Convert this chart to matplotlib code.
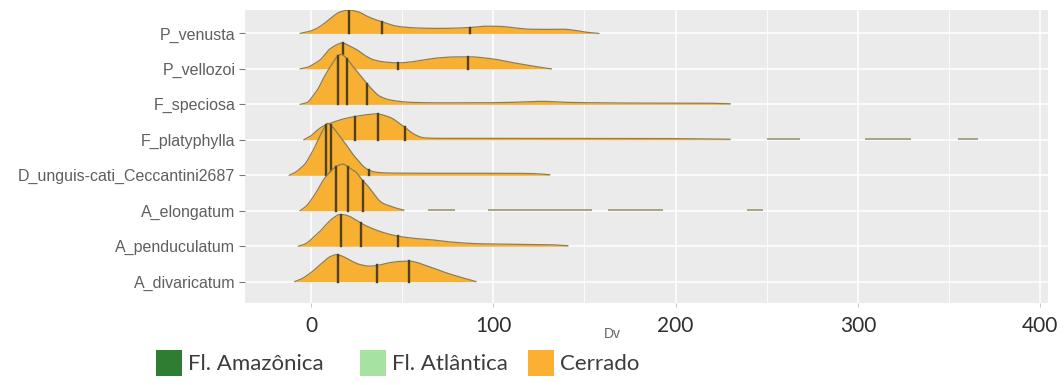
import numpy as np
import matplotlib
matplotlib.use("Agg")
import matplotlib.pyplot as plt
from matplotlib.patches import Rectangle

# ---- data -----------------------------------------------------------------
# species from bottom row to top row
species = ["A_divaricatum", "A_penduculatum", "A_elongatum",
           "D_unguis-cati_Ceccantini2687", "F_platyphylla", "F_speciosa",
           "P_vellozoi", "P_venusta"]

# density profiles (Dv value, relative density)
divaricatum_dv = [-9, -5, -2, 1, 5, 8.3, 11, 13.8, 16.5, 19.3, 23, 26.6, 32, 37, 43, 49,
                  54, 58, 61.3, 68, 74, 82, 88, 90.6]
divaricatum_den = [0, 3, 6.5, 10.6, 17, 22.3, 25.5, 27, 26, 23.7, 20, 17.3, 15.6, 16.5, 19,
                   20.3, 20.6, 19.3, 17.3, 13, 9, 4.5, 1.5, 0]

penduculatum_dv = [-7, -3, 1, 5, 8.3, 12, 15.6, 18, 21, 24, 27.5, 32, 37.6, 43, 48, 56, 65,
                   75, 92, 110, 130, 141]
penduculatum_den = [0, 2.5, 8.3, 15, 21.7, 28, 31.7, 31.5, 30, 27, 23, 19, 15, 12, 10, 8,
                    6.7, 4.5, 2.5, 2, 1.6, 0.5]

elongatum_dv = [-6, -3, 1, 4, 6.5, 9, 12, 15, 17.5, 21, 24.8, 28, 30.3, 34, 37.6, 40, 43,
                47, 51]
elongatum_den = [0, 4, 13.3, 22, 30, 36, 41.7, 45.5, 46.7, 43, 38.3, 31, 26.7, 18, 10, 7, 5,
                 2.5, 0.6]

unguis_dv = [-12, -9, -6, -3, -1, 2, 4, 6.5, 9.2, 12, 14.7, 17.5, 20.2, 23, 26.6, 29, 32,
             36, 45, 70, 100, 120, 131]
unguis_den = [0, 2.5, 6.7, 12, 18, 28, 36, 45, 52, 48, 41.7, 35, 28.3, 21, 13.3, 8.5, 5, 3,
              2.2, 2, 2, 1.8, 0.6]

platyphylla_dv = [-4, 0, 3, 6, 9, 12, 18, 24, 30, 36, 41, 45, 48, 51.5, 55, 58, 62, 70, 100,
                  150, 200, 230]
platyphylla_den = [0, 4, 9, 13, 15.5, 17.5, 21, 23.3, 25, 26, 24, 21, 17, 12.6, 7.5, 4.3, 2,
                   1.5, 1.5, 1.5, 1.2, 0.6]

speciosa_dv = [-6, -2, 1, 4, 6.5, 9, 12, 14.5, 16.5, 19, 23, 27, 30.3, 34, 37.6, 42, 47, 55,
               70, 90, 110, 127, 140, 160, 190, 215, 230]
speciosa_den = [0, 2, 8.3, 16, 25, 33, 41.7, 48, 50, 47, 38, 29, 21.7, 14, 8.3, 5, 3.3, 2,
                1.5, 1.5, 2, 3, 2, 1.5, 1.2, 1.2, 0.6]

vellozoi_dv = [-6, -2, 1, 5, 10, 14, 17, 21, 25, 30, 34, 40, 48, 55, 62, 70, 80, 88, 95, 102,
               110, 120, 128, 132]
vellozoi_den = [0, 1.5, 4.3, 9, 19.3, 24, 26, 23, 19.3, 13, 9.3, 7, 6, 7, 9, 11, 12, 12, 11,
                9.3, 6.5, 3.3, 1, 0]

venusta_dv = [-6, -2, 2, 5, 8, 12, 16, 21, 26, 31, 35, 39, 45, 50, 60, 70, 80, 88, 96, 104,
              112, 120, 130, 138, 145, 151, 158]
venusta_den = [0, 1.5, 4, 7, 11, 17, 21.5, 23.3, 21.5, 17, 14, 11.6, 8, 6.5, 5.3, 5, 5.3, 6,
               7.2, 7, 5.5, 4.2, 4, 4.2, 3, 1.2, 0]

# quartiles of Dv per species
divaricatum_q = [14.7, 36.3, 54]
penduculatum_q = [16.2, 27.5, 48]
elongatum_q = [13.8, 20.2, 28.4]
unguis_q = [8.3, 11, 31.7]
platyphylla_q = [24, 37, 51.5]
speciosa_q = [14.7, 19.8, 30.8]
vellozoi_q = [17.5, 48, 86]
venusta_q = [21, 39, 87]

# isolated low-density stretches of the far tail
elongatum_tail = [(64, 79), (97, 154), (163, 193), (239, 248)]
platyphylla_tail = [(250, 268), (304, 329), (355, 366)]

x_ticks = [0, 100, 200, 300, 400]
legend_labels = ["Fl. Amazônica", "Fl. Atlântica", "Cerrado"]
legend_colors = ["#2f7d33", "#a6e3a0", "#fbb034"]

profiles = [
    (divaricatum_dv, divaricatum_den, divaricatum_q, []),
    (penduculatum_dv, penduculatum_den, penduculatum_q, []),
    (elongatum_dv, elongatum_den, elongatum_q, elongatum_tail),
    (unguis_dv, unguis_den, unguis_q, []),
    (platyphylla_dv, platyphylla_den, platyphylla_q, platyphylla_tail),
    (speciosa_dv, speciosa_den, speciosa_q, []),
    (vellozoi_dv, vellozoi_den, vellozoi_q, []),
    (venusta_dv, venusta_den, venusta_q, []),
]


def pchip(x, y, xs):
    """Monotone cubic Hermite curve through (x, y), evaluated at xs."""
    x = np.asarray(x, float)
    y = np.asarray(y, float)
    xs = np.asarray(xs, float)
    h = np.diff(x)
    d = np.diff(y) / h
    m = np.zeros_like(y)
    for k in range(1, len(x) - 1):
        if d[k - 1] * d[k] > 0:
            w1 = 2 * h[k] + h[k - 1]
            w2 = h[k] + 2 * h[k - 1]
            m[k] = (w1 + w2) / (w1 / d[k - 1] + w2 / d[k])
    m[0] = d[0]
    m[-1] = d[-1]
    idx = np.clip(np.searchsorted(x, xs) - 1, 0, len(x) - 2)
    t = (xs - x[idx]) / h[idx]
    h00 = 2 * t**3 - 3 * t**2 + 1
    h10 = t**3 - 2 * t**2 + t
    h01 = -2 * t**3 + 3 * t**2
    h11 = t**3 - t**2
    return (h00 * y[idx] + h10 * h[idx] * m[idx] + h01 * y[idx + 1]
            + h11 * h[idx] * m[idx + 1])


# ---- figure ---------------------------------------------------------------
W, H = 1064, 385
fig = plt.figure(figsize=(W / 100, H / 100), dpi=100)
fig.patch.set_facecolor("white")

left, right, top, bottom = 245, 1048, 10, 303
ax = fig.add_axes([left / W, 1 - bottom / H, (right - left) / W, (bottom - top) / H])
ax.set_facecolor("#ebebeb")
for s in ax.spines.values():
    s.set_visible(False)

ax.set_xlim(-36.2, 404.3)
ax.set_ylim(0.40, 8.66)

# grid
for v in [50, 150, 250, 350]:
    ax.axvline(v, color="white", lw=0.6, zorder=0)
for v in x_ticks:
    ax.axvline(v, color="white", lw=1.1, zorder=0)
for i in range(len(species)):
    ax.axhline(i + 1, color="white", lw=1.1, zorder=0)

scale = 1 / 35.5
fill_col = "#f8b032"
edge_col = "#8a7d58"
tail_col = "#a39c7e"
q_col = "#52401a"

for i, (dv, den, qs, tail) in enumerate(profiles):
    base = i + 1
    z = 2 + (len(profiles) - i) * 1.0
    xs = np.linspace(dv[0], dv[-1], 800)
    ys = np.clip(pchip(dv, den, xs), 0, None)
    ax.fill_between(xs, base, base + ys * scale, color=fill_col, lw=0, zorder=z)
    ax.plot(xs, base + ys * scale, color=edge_col, lw=0.9, zorder=z + 0.1,
            solid_capstyle="round")
    for q in qs:
        hq = float(np.clip(pchip(dv, den, [q])[0], 0, None))
        ax.plot([q, q], [base, base + hq * scale], color=q_col, lw=1.7, zorder=z + 0.2)
    for a, b in tail:
        ax.plot([a, b], [base + 0.012, base + 0.012], color=tail_col, lw=1.3,
                zorder=z + 0.1, solid_capstyle="butt")

# axes ticks
ax.set_yticks(range(1, len(species) + 1))
ax.set_yticklabels(species, fontsize=11.5, color="#5f5f5f", family="Liberation Sans")
ax.tick_params(axis="y", length=4, width=0.8, color="#7a7a7a", pad=3)
ax.set_xticks(x_ticks)
ax.set_xticklabels([str(v) for v in x_ticks], fontsize=15, color="#2e2e2e", family="Lato")
ax.tick_params(axis="x", length=3, width=0.6, color="#bdbdbd", pad=6)

fig.text(612 / W, 1 - 334 / H, "Dv", fontsize=10, color="#666666",
         family="Liberation Sans", ha="center", va="center")

# legend
sq = 26
box_x = [156, 360, 528]
box_y = 350
for bx, lab, col in zip(box_x, legend_labels, legend_colors):
    fig.add_artist(Rectangle((bx / W, 1 - (box_y + sq) / H), sq / W, sq / H,
                             transform=fig.transFigure, facecolor=col, edgecolor="none"))
    fig.text((bx + sq + 6) / W, 1 - (box_y + sq / 2 + 1) / H, lab, fontsize=16,
             color="#3c3c3c", family="Lato", ha="left", va="center")

fig.savefig("out.png", dpi=100)
